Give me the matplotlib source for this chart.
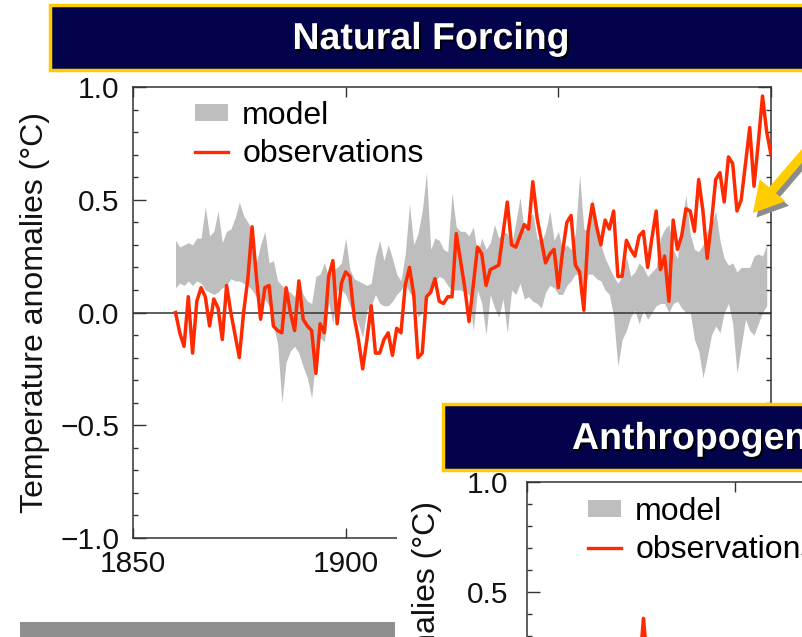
import matplotlib
matplotlib.use("Agg")
import matplotlib.pyplot as plt
import matplotlib.patheffects as pe
from matplotlib.patches import Rectangle, Patch, FancyArrow
from matplotlib.lines import Line2D
from matplotlib.ticker import MultipleLocator, FuncFormatter

plt.rcParams['font.family'] = ['Liberation Sans', 'DejaVu Sans']

# ---------------- data ----------------
obs_years = list(range(1860, 2001))
obs = [0.00, -0.09, -0.15, 0.07, -0.18, 0.05, 0.11, 0.07, -0.06, 0.06,
       0.02, -0.12, 0.12, 0.00, -0.10, -0.20, 0.00, 0.15, 0.38, 0.16,
       -0.03, 0.11, 0.12, -0.06, -0.08, -0.09, 0.11, 0.00, -0.08, 0.14,
       -0.03, -0.06, -0.08, -0.27, -0.05, -0.09, 0.16, 0.23, -0.05, 0.13,
       0.18, 0.16, -0.02, -0.12, -0.25, -0.12, 0.03, -0.18, -0.18, -0.12,
       -0.09, -0.19, -0.07, -0.09, 0.12, 0.20, 0.08, -0.20, -0.18, 0.07,
       0.09, 0.15, 0.05, 0.04, 0.07, 0.07, 0.35, 0.23, 0.11, -0.04,
       0.12, 0.29, 0.26, 0.12, 0.19, 0.20, 0.21, 0.35, 0.49, 0.30,
       0.29, 0.34, 0.39, 0.37, 0.58, 0.42, 0.32, 0.22, 0.26, 0.28,
       0.11, 0.27, 0.40, 0.43, 0.21, 0.18, 0.01, 0.36, 0.48, 0.38,
       0.30, 0.41, 0.37, 0.45, 0.16, 0.16, 0.32, 0.28, 0.25, 0.34,
       0.36, 0.20, 0.33, 0.45, 0.19, 0.25, 0.05, 0.41, 0.28, 0.34,
       0.46, 0.45, 0.36, 0.59, 0.45, 0.24, 0.40, 0.59, 0.62, 0.49,
       0.69, 0.66, 0.45, 0.50, 0.66, 0.82, 0.56, 0.75, 0.96, 0.80,
       0.70]

model_years = list(range(1860, 2000))
model_hi = [0.32, 0.29, 0.30, 0.31, 0.30, 0.33, 0.33, 0.47, 0.34, 0.36,
            0.45, 0.31, 0.36, 0.37, 0.42, 0.49, 0.43, 0.40, 0.36, 0.22,
            0.30, 0.36, 0.22, 0.23, 0.14, 0.12, 0.10, 0.09, 0.07, 0.15,
            0.08, 0.05, 0.04, 0.16, 0.17, 0.22, 0.16, 0.19, 0.20, 0.22,
            0.33, 0.19, 0.15, 0.14, 0.13, 0.12, 0.13, 0.25, 0.32, 0.23,
            0.30, 0.24, 0.17, 0.14, 0.26, 0.48, 0.30, 0.35, 0.45, 0.62,
            0.28, 0.33, 0.32, 0.28, 0.27, 0.53, 0.38, 0.36, 0.36, 0.34,
            0.38, 0.26, 0.33, 0.28, 0.31, 0.39, 0.33, 0.36, 0.35, 0.30,
            0.40, 0.51, 0.36, 0.42, 0.44, 0.33, 0.31, 0.36, 0.45, 0.32,
            0.36, 0.28, 0.30, 0.28, 0.35, 0.61, 0.37, 0.36, 0.51, 0.37,
            0.30, 0.24, 0.20, 0.16, 0.13, 0.16, 0.25, 0.16, 0.18, 0.22,
            0.20, 0.16, 0.18, 0.20, 0.33, 0.37, 0.39, 0.28, 0.24, 0.40,
            0.52, 0.35, 0.28, 0.27, 0.30, 0.36, 0.39, 0.45, 0.32, 0.24,
            0.21, 0.22, 0.18, 0.20, 0.20, 0.20, 0.25, 0.26, 0.25, 0.30]
model_lo = [0.11, 0.13, 0.12, 0.14, 0.12, 0.14, 0.13, 0.10, 0.09, 0.08,
            0.09, 0.11, 0.12, 0.15, 0.14, 0.14, 0.13, 0.12, 0.10, 0.07,
            0.05, 0.06, 0.03, -0.05, -0.14, -0.40, -0.22, -0.17, -0.15, -0.18,
            -0.24, -0.29, -0.38, -0.20, -0.11, -0.13, 0.04, -0.05, 0.10, 0.10,
            0.08, 0.03, 0.00, -0.05, -0.11, 0.01, 0.03, 0.08, 0.04, 0.03,
            0.03, 0.05, 0.08, 0.10, 0.13, 0.09, 0.06, -0.02, 0.00, 0.06,
            0.10, 0.14, 0.16, 0.15, 0.12, 0.10, 0.10, 0.10, 0.09, 0.08,
            -0.08, 0.10, 0.04, -0.10, 0.08, 0.02, -0.02, 0.06, -0.09, 0.10,
            0.08, 0.13, 0.06, 0.07, 0.05, 0.04, 0.02, 0.09, 0.12, 0.11,
            0.08, 0.08, 0.12, 0.14, 0.17, 0.17, 0.10, 0.17, 0.17, 0.15,
            0.14, 0.10, 0.08, -0.02, -0.24, -0.12, -0.08, -0.02, 0.01, -0.05,
            0.01, -0.03, 0.00, 0.03, 0.04, 0.04, 0.00, 0.04, 0.05, 0.02,
            0.00, 0.00, -0.12, -0.17, -0.29, -0.20, -0.10, -0.06, -0.09, 0.00,
            0.04, -0.05, -0.27, -0.15, -0.03, -0.08, -0.10, -0.05, 0.00, 0.03]

x_ticks = [1850, 1900, 1950, 2000]
y_ticks = [-1.0, -0.5, 0.0, 0.5, 1.0]
legend_labels = ['model', 'observations']
title_1 = 'Natural Forcing'
title_2 = 'Anthropogenic Forcing'
y_label = 'Temperature anomalies (\u00b0C)'

# ---------------- style ----------------
W, H = 803, 637
GRAY = '#bebebe'
RED = '#ff2a00'
NAVY = '#03034c'
YEL = '#ffcc00'
AX = '#333333'


def fx(px):
    return px / W


def fy(py):
    return 1 - py / H


def yfmt(v, _):
    s = f"{v:.1f}"
    if s == "-0.0":
        s = "0.0"
    return s.replace('-', '\u2212')


fig = plt.figure(figsize=(W / 100, H / 100), dpi=100)
fig.patch.set_facecolor('white')


def style_axes(ax, ypad, xlabels=True):
    ax.set_xlim(1850, 2000)
    ax.set_ylim(-1, 1)
    ax.set_xticks(x_ticks)
    ax.set_xticklabels([str(t) for t in x_ticks])
    ax.set_yticks(y_ticks)
    ax.yaxis.set_major_formatter(FuncFormatter(yfmt))
    ax.yaxis.set_minor_locator(MultipleLocator(0.1))
    ax.tick_params(which='both', direction='in', top=True, right=True,
                   labelsize=21.5, width=1.0, color=AX, labelcolor='#111111')
    ax.tick_params(axis='y', which='major', length=9.5, pad=ypad)
    ax.tick_params(axis='y', which='minor', length=3.7)
    ax.tick_params(axis='x', which='major', length=7.5, pad=8.5,
                   labelbottom=xlabels)
    for s in ax.spines.values():
        s.set_linewidth(1.1)
        s.set_color(AX)
    ax.axhline(0, color=AX, lw=1.1, zorder=2)


def legend(ax, anchor):
    handles = [Patch(facecolor=GRAY, edgecolor='none'),
               Line2D([], [], color=RED, lw=2.4)]
    ax.legend(handles, legend_labels, loc='upper left', bbox_to_anchor=anchor,
              frameon=False, fontsize=23, handlelength=1.03, handleheight=0.45,
              handletextpad=0.45, labelspacing=0.25, borderpad=0, borderaxespad=0)


# ---------------- main panel ----------------
ax = fig.add_axes([fx(133), fy(538), fx(771) - fx(133), (538 - 87) / H], zorder=0)
style_axes(ax, 10)
ax.fill_between(model_years, model_lo, model_hi, color=GRAY, lw=0, zorder=1)
ax.plot(obs_years, obs, color=RED, lw=2.5, zorder=3)
ax.set_ylabel(y_label, fontsize=23, color='#111111')
ax.yaxis.set_label_coords(-0.130, 0.5)
legend(ax, ((195 - 133) / 638, (538 - 101) / 451))

# title bar 1
fig.add_artist(Rectangle((fx(50), fy(70)), fx(830) - fx(50), 65 / H,
                         transform=fig.transFigure, facecolor=NAVY,
                         edgecolor=YEL, lw=2.5, zorder=10))
fig.text(fx(431), fy(49), title_1, color='white', fontsize=27, fontweight='bold',
         ha='center', va='baseline', zorder=11,
         path_effects=[pe.SimplePatchShadow(offset=(1.5, -1.5), shadow_rgbFace='black', alpha=0.9),
                       pe.Normal()])

# ---------------- overlapping second panel ----------------
fig.add_artist(Rectangle((fx(397), 0), fx(803) - fx(397), (637 - 404) / H,
                         transform=fig.transFigure, facecolor='white',
                         edgecolor='none', zorder=5))
fig.add_artist(Rectangle((fx(20), 0), fx(395) - fx(20), (637 - 622) / H,
                         transform=fig.transFigure, facecolor='#8f8f8f',
                         edgecolor='none', zorder=5))

ax2 = fig.add_axes([fx(527), fy(922), 624 / W, 440 / H], zorder=6)
style_axes(ax2, 13.5, xlabels=False)
ax2.plot(obs_years, obs, color=RED, lw=2.5, zorder=3)
ax2.set_ylabel(y_label, fontsize=23, color='#111111')
ax2.yaxis.set_label_coords(-0.136, 0.5)
legend(ax2, ((588 - 527) / 624, (922 - 497) / 440))

fig.add_artist(Rectangle((fx(443), fy(470)), fx(840) - fx(443), 66 / H,
                         transform=fig.transFigure, facecolor=NAVY,
                         edgecolor=YEL, lw=2.5, zorder=10))
fig.text(fx(572), fy(449), title_2, color='white', fontsize=27, fontweight='bold',
         ha='left', va='baseline', zorder=11,
         path_effects=[pe.SimplePatchShadow(offset=(1.5, -1.5), shadow_rgbFace='black', alpha=0.9),
                       pe.Normal()])

# ---------------- arrow ----------------
tail = (8.31, (H - 122) / 100)
tip = (7.53, (H - 213) / 100)
dx, dy = tip[0] - tail[0], tip[1] - tail[1]
for off, col, z in [((0.035, -0.045), '#8c8c8c', 12), ((0, 0), YEL, 13)]:
    fig.add_artist(FancyArrow(tail[0] + off[0], tail[1] + off[1], dx, dy,
                              width=0.09, head_width=0.34, head_length=0.30,
                              length_includes_head=True, transform=fig.dpi_scale_trans,
                              facecolor=col, edgecolor='none', zorder=z))

fig.savefig('out.png', dpi=100)
